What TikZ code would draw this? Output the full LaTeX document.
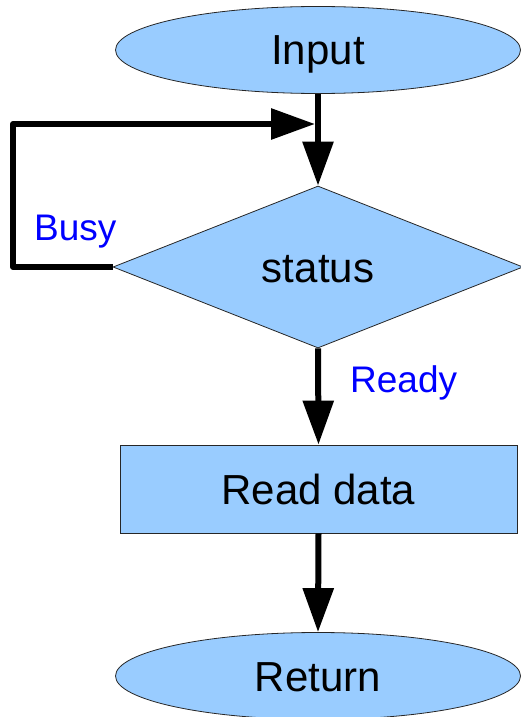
\documentclass[tikz,border=0pt]{standalone}
\usepackage{fontspec}
\setmainfont{Liberation Sans}
\usetikzlibrary{shapes.geometric,arrows.meta}
\definecolor{boxblue}{HTML}{99CCFF}
\definecolor{labelblue}{HTML}{0000FF}
\tikzset{
  shapebase/.style={draw=black!85, line width=0.8pt, fill=boxblue, inner sep=0pt,
    font=\fontsize{42}{48}\selectfont, text height=30pt, text depth=0pt},
  terminal/.style={shapebase, ellipse, minimum width=405pt, minimum height=87pt},
  decision/.style={shapebase, diamond, minimum width=410pt, minimum height=162pt},
  process/.style={shapebase, rectangle, minimum width=397pt, minimum height=88pt},
  branchlabel/.style={text=labelblue, font=\fontsize{37}{42}\selectfont, anchor=base west, inner sep=0pt},
  flow/.style={line width=6pt, line join=round, -{Triangle[length=44pt,width=30pt]}}
}
\begin{document}
\begin{tikzpicture}[x=1pt,y=-1pt]
  \useasboundingbox (0,0) rectangle (521,717);
  \clip (0,0) rectangle (521,717);

  % flowchart shapes
  \node[terminal] (input) at (318,50) {Input};
  \node[decision] (status) at (318,267) {status};
  \node[process] (read) at (318.5,489) {Read data};
  \node[terminal] (return) at (318,676) {Return};

  % branch labels
  \node[branchlabel] (busy) at (34,240) {Busy};
  \node[branchlabel] (ready) at (350,392) {Ready};

  % corners of the busy-wait loop
  \coordinate (loopbottom) at (13,267);
  \coordinate (looptop) at (13,124);
  \coordinate (join) at (315,124);

  % connectors
  \draw[flow] (input.south) -- (status.north);
  \draw[flow] (status.west) -- (loopbottom) -- (looptop) -- (join);
  \draw[flow] (status.south) -- (read.north);
  \draw[flow] (read.south) -- (return.north);
\end{tikzpicture}
\end{document}
